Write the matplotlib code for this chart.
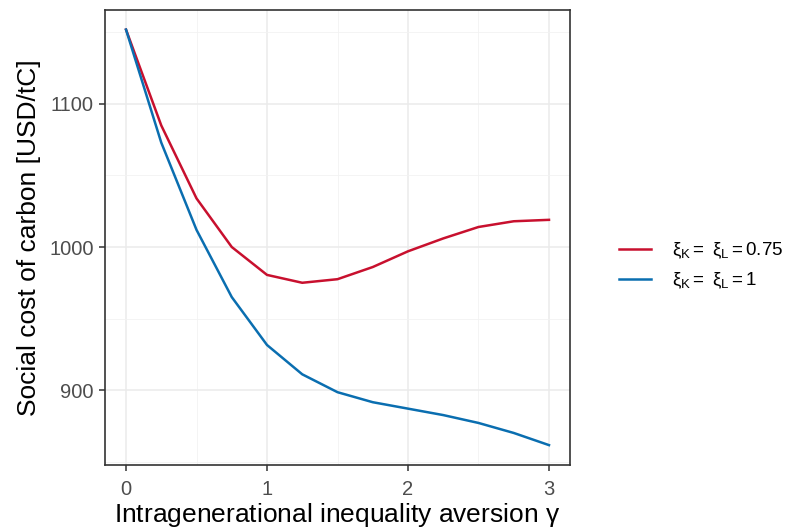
import matplotlib
matplotlib.use("Agg")
import matplotlib.pyplot as plt
from matplotlib.ticker import MultipleLocator

plt.rcParams['font.family'] = ['Liberation Sans', 'DejaVu Sans']
plt.rcParams['mathtext.fontset'] = 'custom'
plt.rcParams['mathtext.rm'] = 'Liberation Sans'
plt.rcParams['mathtext.it'] = 'Liberation Sans'
plt.rcParams['mathtext.sf'] = 'Liberation Sans'

# Daten
gamma = [0, 0.25, 0.5, 0.75, 1.0, 1.25, 1.5, 1.75, 2.0, 2.25, 2.5, 2.75, 3.0]
scc_075 = [1152, 1085, 1034, 1000, 980.5, 975, 977.5, 986, 997, 1006, 1014, 1018, 1019]
scc_1 = [1152, 1073, 1012, 965, 931.5, 911, 898.5, 891.5, 887, 882.5, 877, 870, 861.5]
labels = [r'$\xi_\mathrm{K} = \ \xi_\mathrm{L} = 0.75$', r'$\xi_\mathrm{K} = \ \xi_\mathrm{L} = 1$']

fig = plt.figure(figsize=(8.09, 5.31), dpi=100)
ax = fig.add_axes([105 / 809, 66 / 531, 465 / 809, 455 / 531])

ax.plot(gamma, scc_075, color='#C8102E', lw=1.8, label=labels[0])
ax.plot(gamma, scc_1, color='#0A6EB0', lw=1.8, label=labels[1])

ax.set_xlim(-0.149, 3.149)
ax.set_ylim(847.6, 1165.7)
ax.xaxis.set_major_locator(MultipleLocator(1))
ax.xaxis.set_minor_locator(MultipleLocator(0.5))
ax.yaxis.set_major_locator(MultipleLocator(100))
ax.yaxis.set_minor_locator(MultipleLocator(50))
ax.grid(which='major', color='#EBEBEB', lw=1.1)
ax.grid(which='minor', color='#F2F2F2', lw=0.6)
ax.set_axisbelow(True)

for s in ax.spines.values():
    s.set_color('#333333')
    s.set_linewidth(1.2)
ax.tick_params(which='major', length=4, width=1.1, color='#333333',
               labelcolor='#4D4D4D', labelsize=14.5, pad=4)
ax.tick_params(axis='x', which='major', pad=7)
ax.tick_params(which='minor', length=0)

ax.set_xlabel(r'Intragenerational inequality aversion $\gamma$', fontsize=19, labelpad=1)
ax.set_ylabel('Social cost of carbon [USD/tC]', fontsize=19, labelpad=6)

ax.legend(loc='center left', bbox_to_anchor=(1.07, 0.438), frameon=False,
          fontsize=13.5, handlelength=1.7, labelspacing=0.5, handletextpad=1.1)

fig.savefig('out.png', dpi=100)
